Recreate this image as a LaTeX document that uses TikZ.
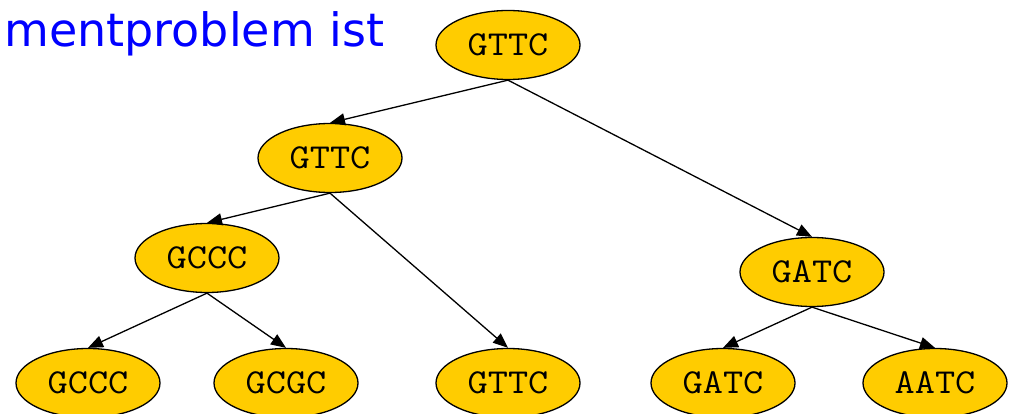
\documentclass[tikz,border=0pt]{standalone}
\usepackage{fontspec}
\setmainfont{Liberation Serif}
\newfontfamily\labelfont[FakeStretch=1.12]{Latin Modern Mono}
\newfontfamily\titlefont{DejaVu Sans}
\usetikzlibrary{shapes.geometric,arrows.meta}
\definecolor{nodegold}{RGB}{255,204,0}
\definecolor{titleblue}{RGB}{0,0,255}
\tikzset{
  seq/.style={ellipse, draw=black, line width=1.3pt, fill=nodegold,
    minimum width=144pt, minimum height=69pt, inner sep=0pt,
    font=\labelfont\fontsize{35}{35}\selectfont},
  edge/.style={line width=1.3pt, -{Triangle[length=15pt,width=12pt]}},
}
\begin{document}
\begin{tikzpicture}[x=1pt,y=-1pt]
\useasboundingbox (0,0) rectangle (1009,414);
\clip (0,0) rectangle (1009,414);
% title fragment
\node[anchor=base west, inner sep=0pt, text=titleblue,
  font=\titlefont\fontsize{46}{46}\selectfont] (title) at (4,47) {mentproblem ist};
% tree nodes
\node[seq] (r)   at (508,45)  {GTTC};
\node[seq] (a)   at (330,158) {GTTC};
\node[seq] (b)   at (812,272) {GATC};
\node[seq] (c)   at (207,258) {GCCC};
\node[seq] (d1)  at (88,383)  {GCCC};
\node[seq] (d2)  at (286,383) {GCGC};
\node[seq] (d3)  at (508,383) {GTTC};
\node[seq] (d4)  at (723,383) {GATC};
\node[seq] (d5)  at (935,383) {AATC};
% edges
\draw[edge] (r.south) -- (a.north);
\draw[edge] (r.south) -- (b.north);
\draw[edge] (a.south) -- (c.north);
\draw[edge] (a.south) -- (d3.north);
\draw[edge] (c.south) -- (d1.north);
\draw[edge] (c.south) -- (d2.north);
\draw[edge] (b.south) -- (d4.north);
\draw[edge] (b.south) -- (d5.north);
\end{tikzpicture}
\end{document}
